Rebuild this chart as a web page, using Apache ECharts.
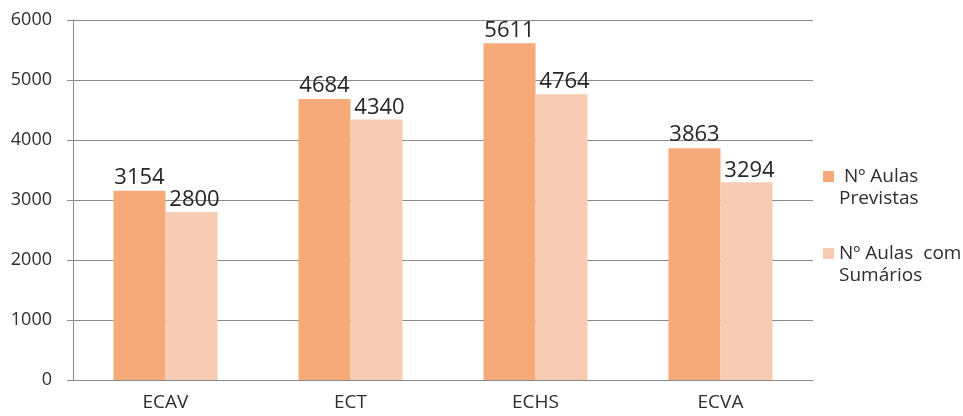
<!DOCTYPE html>
<html>
<head>
<meta charset="utf-8">
<script src="https://cdn.jsdelivr.net/npm/echarts@6/dist/echarts.min.js"></script>
<style>
html,body{margin:0;padding:0;background:#fff;}
#chart{width:963px;height:416px;}
</style>
</head>
<body>
<div id="chart"></div>
<script>
const categories = ['ECAV', 'ECT', 'ECHS', 'ECVA'];
const aulasPrevistas = [3154, 4684, 5611, 3863];
const aulasSumarios = [2800, 4340, 4764, 3294];
const seriesNames = [' Nº Aulas\nPrevistas', 'Nº Aulas  com\nSumários'];
const yTicks = { min: 0, max: 6000, interval: 1000 };

const FONT = '"Open Sans", sans-serif';
const TXT = '#2e2e2e';
const LBL = '#262626';
const GRID = '#8a8a8a';

const chart = echarts.init(document.getElementById('chart'), null, { renderer: 'canvas' });

function legendFor(name, top) {
  return {
    data: [name],
    orient: 'vertical',
    left: 823,
    top: top,
    padding: 0,
    itemWidth: 11,
    itemHeight: 11,
    itemGap: 0,
    icon: 'rect',
    selectedMode: false,
    // leading blank line so the marker sits beside the first text line
    formatter: n => '\n' + n,
    textStyle: {
      fontFamily: FONT,
      fontSize: 19,
      color: TXT,
      lineHeight: 22
    }
  };
}

const option = {
  animation: false,
  backgroundColor: '#ffffff',
  textStyle: { fontFamily: FONT },
  grid: { left: 73, right: 150, top: 20, bottom: 36, containLabel: false },
  legend: [legendFor(seriesNames[0], 143.5), legendFor(seriesNames[1], 220.5)],
  xAxis: {
    type: 'category',
    data: categories,
    axisLine: { show: true, lineStyle: { color: GRID, width: 1 } },
    axisTick: { show: false },
    axisLabel: { fontFamily: FONT, fontSize: 19, color: TXT, margin: 13 },
    splitLine: { show: false }
  },
  yAxis: {
    type: 'value',
    min: yTicks.min,
    max: yTicks.max,
    interval: yTicks.interval,
    axisLine: { show: true, lineStyle: { color: GRID, width: 1 } },
    axisTick: { show: true, inside: false, length: 6, lineStyle: { color: GRID } },
    axisLabel: { fontFamily: FONT, fontSize: 18, color: TXT, margin: 21, formatter: v => String(v) },
    splitLine: { show: true, lineStyle: { color: GRID, width: 1 } }
  },
  series: [
    {
      name: seriesNames[0],
      type: 'bar',
      data: aulasPrevistas,
      barWidth: 52,
      barGap: '0%',
      itemStyle: { color: '#F7AA79' },
      label: { show: true, position: 'top', distance: 2, fontFamily: FONT, fontSize: 22, color: LBL }
    },
    {
      name: seriesNames[1],
      type: 'bar',
      data: aulasSumarios,
      barWidth: 52,
      barGap: '0%',
      itemStyle: { color: '#F8CBB3' },
      label: { show: true, position: 'top', distance: 1, offset: [3, 0], fontFamily: FONT, fontSize: 22, color: LBL }
    }
  ]
};
chart.setOption(option);
</script>
</body>
</html>
